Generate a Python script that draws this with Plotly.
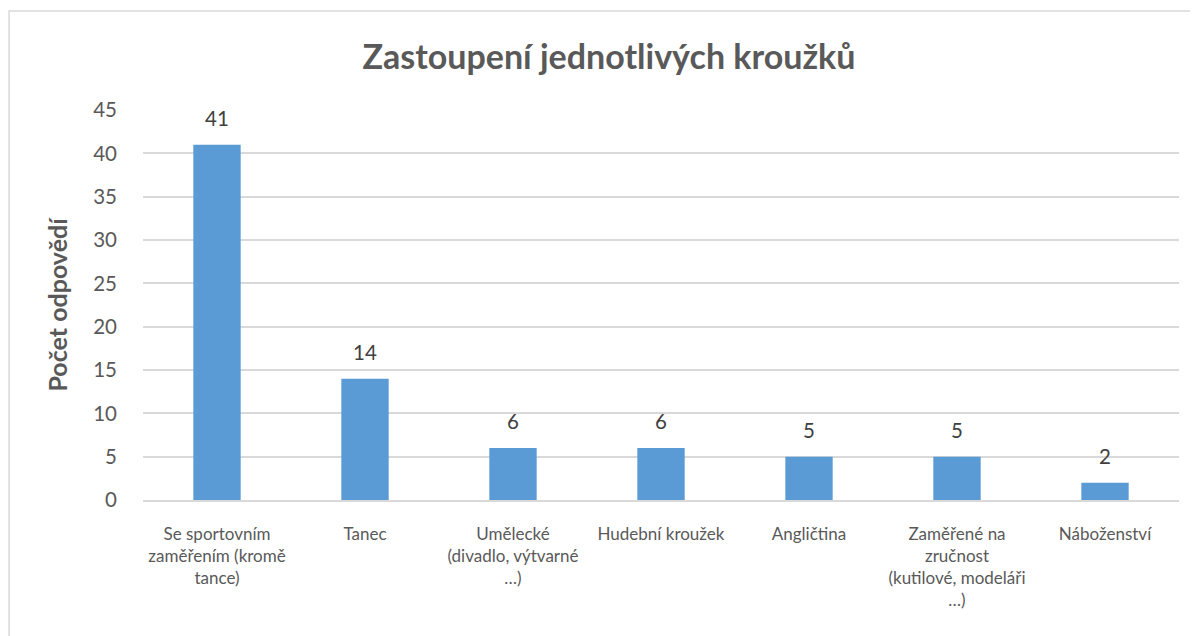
import plotly.graph_objects as go

categories = [
    "Se sportovním<br>zaměřením (kromě<br>tance)",
    "Tanec",
    "Umělecké<br>(divadlo, výtvarné<br>…)",
    "Hudební kroužek",
    "Angličtina",
    "Zaměřené na<br>zručnost<br>(kutilové, modeláři<br>…)",
    "Náboženství",
]
values = [41, 14, 6, 6, 5, 5, 2]
y_ticks = [0, 5, 10, 15, 20, 25, 30, 35, 40, 45]

FONT = "Lato, 'Open Sans', sans-serif"
GREY = "#595959"

fig = go.Figure()
fig.add_trace(go.Bar(
    x=list(range(len(categories))),
    y=values,
    marker=dict(color="#5b9bd5", line=dict(width=0)),
    width=0.32,
    hoverinfo="skip",
))

for i, v in enumerate(values):
    fig.add_annotation(
        x=i, y=v, text=str(v), showarrow=False,
        yanchor="bottom", yshift=13,
        font=dict(family=FONT, size=20.5, color="#404040"),
    )

# outer chart border
fig.add_shape(
    type="rect", xref="paper", yref="paper",
    x0=-0.1293, x1=1.04, y0=-0.45, y1=1.2538,
    line=dict(color="#d9d9d9", width=1.5), fillcolor="rgba(0,0,0,0)",
    layer="below",
)

fig.update_layout(
    width=1190, height=628,
    margin=dict(l=135, r=19, t=102, b=136),
    paper_bgcolor="white", plot_bgcolor="white",
    showlegend=False,
    title=dict(
        text="<b>Zastoupení jednotlivých kroužků</b>",
        x=0.505, xanchor="center", y=0.922, yanchor="middle",
        font=dict(family=FONT, size=34, color=GREY),
    ),
    font=dict(family=FONT, color=GREY),
)

fig.update_xaxes(
    tickmode="array",
    tickvals=list(range(len(categories))),
    ticktext=categories,
    range=[-0.5, len(categories) - 0.5],
    showgrid=False,
    showline=True, linecolor="#d9d9d9", linewidth=1.5,
    ticks="",
    tickfont=dict(family=FONT, size=17, color=GREY),
    ticklabelstandoff=18,
    tickangle=0,
)
fig.update_yaxes(
    range=[0, 45],
    tickmode="array", tickvals=y_ticks,
    showgrid=True, gridcolor="#d9d9d9", gridwidth=1.5,
    zeroline=False,
    showline=False,
    ticks="",
    tickfont=dict(family=FONT, size=20.5, color=GREY),
    ticklabelstandoff=25,
    title=dict(text="<b>Počet odpovědí</b>", font=dict(family=FONT, size=25, color=GREY), standoff=18),
)

fig.write_html("out.html")
